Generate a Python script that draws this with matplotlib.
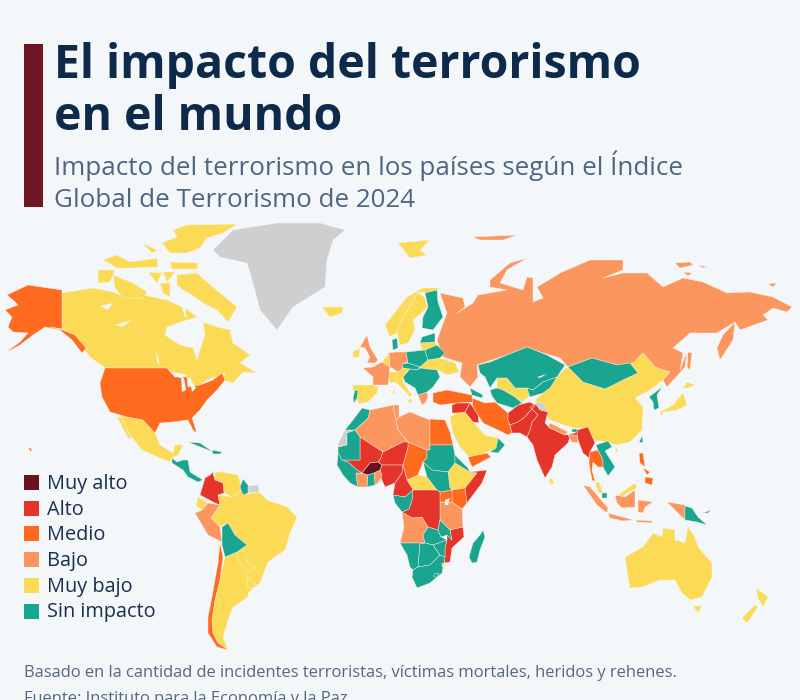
import matplotlib
matplotlib.use('Agg')
import matplotlib.pyplot as plt
from matplotlib.patches import Rectangle

plt.rcParams['font.family'] = ['Open Sans', 'DejaVu Sans']

BG = '#f4f7fa'
MUY_ALTO = '#6b1220'
ALTO = '#e5352b'
MEDIO = '#fe6a1e'
BAJO = '#fb965f'
MUY_BAJO = '#fbdb55'
SIN = '#1aa590'
GRIS = '#cecfd1'

legend_labels = ['Muy alto', 'Alto', 'Medio', 'Bajo', 'Muy bajo', 'Sin impacto']
legend_colors = [MUY_ALTO, ALTO, MEDIO, BAJO, MUY_BAJO, SIN]

# Country outlines (map units = reference pixels)
# North America
greenland = [(213,250),(233,230),(277,223),(320,223),(345,230),(333,240),(327,260),(325,287),(293,307),(277,330),(260,310),(253,283),(247,263),(220,257)]
iceland = [(322,307),(343,307),(342,313),(330,317)]
alaska = [(7,295),(28,285),(62,290),(62,329),(50,327),(63,330),(75,335),(86,348),(82,353),(72,340),(60,330),(45,327),(33,335),(20,345),(5,353),(20,342),(28,333),(13,332),(8,327),(12,317),(5,310),(18,305),(13,300)]
hawaii = [(28,447),(32,449),(31,452)]
canada = [(62,293),(93,288),(113,292),(127,298),(143,295),(167,300),(182,307),(185,317),(197,317),(187,320),(167,327),(165,335),(180,345),(193,348),(197,360),(200,350),(205,335),(203,322),(217,327),(230,330),(233,343),(250,355),(240,363),(257,373),(243,372),(233,383),(223,380),(225,373),(207,380),(195,388),(190,378),(173,373),(167,368),(105,368),(90,357),(75,335),(62,329)]
baffin = [(177,275),(197,273),(213,287),(237,307),(228,322),(217,310),(203,303),(192,295),(183,290),(177,285)]
victoria = [(113,275),(133,283),(147,292),(143,298),(123,298),(115,288)]
banks = [(98,270),(115,270),(110,282),(98,283)]
ellesmere = [(173,230),(187,225),(237,224),(223,233),(207,238),(200,248),(187,253),(170,253),(162,243),(177,237)]
devon = [(170,262),(198,263),(197,269),(172,269)]
melville = [(103,260),(117,255),(130,262),(157,258),(158,267),(130,268),(117,268)]
southampton = [(185,308),(197,317),(187,320)]
arctic_a = [(142,243),(157,250),(152,253)]
arctic_b = [(148,272),(162,273),(157,283)]
arctic_c = [(163,272),(175,272),(167,282)]
arctic_d = [(160,283),(170,283),(170,297),(163,293)]
usa = [(105,368),(167,368),(175,377),(187,377),(188,387),(200,385),(213,380),(222,373),(225,380),(217,390),(207,400),(200,410),(192,418),(197,433),(193,430),(188,420),(173,422),(160,423),(155,433),(143,420),(127,417),(110,412),(102,397),(100,383)]
lake_superior = [(172,372),(188,375),(180,378)]
lake_michigan = [(181,377),(184,378),(186,390),(182,392)]
lake_huron = [(190,379),(196,388),(192,392)]
great_bear = [(100,306),(113,303),(108,310)]
great_slave = [(115,325),(132,320),(122,327)]
lake_winnipeg = [(156,350),(160,364),(157,362)]
mexico = [(120,414),(127,417),(143,420),(155,433),(160,445),(173,453),(175,445),(183,445),(178,455),(172,458),(170,462),(160,458),(142,450),(130,435)]
baja = [(117,417),(122,418),(132,440),(128,438)]
central_america = [(172,458),(177,462),(183,460),(188,460),(190,472),(198,477),(203,480),(198,482),(188,477),(183,470),(172,463)]
cuba = [(188,442),(200,443),(213,452),(203,448)]
hispaniola = [(212,450),(222,452),(220,454),(213,454)]

# South America
colombia = [(215,470),(210,475),(205,478),(200,495),(215,503),(220,505),(218,495),(224,493),(223,483),(215,480),(213,473)]
venezuela = [(215,472),(222,472),(238,475),(240,482),(242,490),(232,497),(224,493),(223,483),(215,480)]
guyana = [(243,479),(248,485),(248,493),(243,495),(240,487)]
guayana_fr = [(248,486),(258,485),(259,492),(248,493)]
ecuador = [(198,497),(208,503),(202,510),(196,506)]
peru = [(202,510),(208,503),(220,505),(211,518),(220,527),(222,542),(208,535),(195,513)]
bolivia = [(222,527),(228,523),(235,535),(247,545),(237,552),(225,557),(222,545)]
brazil = [(211,518),(220,505),(218,495),(232,497),(242,490),(248,494),(259,492),(267,500),(287,507),(297,517),(290,533),(285,550),(268,562),(260,583),(253,588),(247,578),(245,555),(237,552),(247,545),(235,535),(228,523),(220,527)]
argentina = [(225,557),(237,552),(245,555),(247,578),(253,588),(248,593),(248,597),(233,607),(228,620),(223,637),(228,650),(218,643),(213,633),(212,620),(215,600),(220,580)]
chile = [(220,543),(223,557),(220,580),(215,600),(212,620),(213,633),(218,643),(228,650),(217,647),(208,633),(208,617),(212,597),(218,563)]
paraguay = [(237,552),(245,551),(248,563),(255,567),(252,572),(245,570),(238,560)]
uruguay = [(248,578),(256,583),(253,588),(247,587)]

# Europe
svalbard = [(398,243),(430,240),(420,250),(427,255),(410,258)]
franz_josef = [(473,237),(517,235),(503,240),(480,240)]
norway = [(385,325),(407,297),(423,288),(440,288),(430,293),(418,292),(402,320),(398,332),(390,337)]
sweden = [(418,292),(425,298),(427,308),(413,320),(415,330),(408,343),(400,345),(397,333),(402,320)]
finland = [(425,293),(437,290),(438,302),(443,317),(433,330),(422,328),(423,317),(428,307)]
spain = [(353,385),(373,385),(378,387),(377,393),(368,402),(360,404),(355,398),(357,392),(353,390)]
portugal = [(355,390),(358,391),(357,398),(354,403),(353,398)]
france = [(363,368),(373,367),(382,362),(390,367),(389,378),(388,385),(373,385),(373,377)]
uk = [(360,347),(367,335),(370,347),(378,360),(375,363),(367,363),(370,357),(365,348)]
ireland = [(353,352),(360,348),(359,357),(353,358)]
germany = [(389,353),(395,352),(406,352),(408,362),(402,364),(403,368),(398,372),(390,367)]
benelux = [(382,362),(389,353),(390,367)]
denmark = [(392,340),(397,338),(398,348),(393,350)]
poland = [(406,352),(425,350),(428,360),(420,367),(408,363)]
czech_austria = [(402,364),(408,363),(420,367),(417,370),(410,369),(403,368)]
belarus = [(425,350),(437,345),(445,353),(440,358),(428,360)]
estonia = [(422,337),(435,333),(435,342),(420,343)]
latvia = [(420,343),(435,342),(437,345),(425,350),(422,350)]
ukraine = [(420,367),(428,360),(440,358),(455,363),(459,372),(447,375),(438,370),(420,368)]
balkans = [(403,377),(410,369),(417,370),(420,368),(437,370),(440,377),(433,387),(427,392),(418,395),(415,388),(405,382)]
italy = [(389,378),(390,372),(398,372),(403,368),(410,369),(403,377),(403,382),(412,395),(410,397),(402,388),(395,382),(390,383)]
sardinia = [(393,387),(395,393),(393,395)]
sicily = [(407,402),(411,398),(412,403)]
greece = [(418,395),(427,392),(428,397),(425,403),(422,405)]

# Russia and Central Asia
russia = [(437,340),(447,313),(440,293),(463,298),(465,307),(457,313),(473,303),(478,295),(507,290),(490,287),(490,280),(510,263),(527,258),(507,270),(500,283),(523,290),(527,277),(533,278),(533,302),(543,298),(537,287),(557,275),(560,273),(590,260),(623,260),(623,270),(603,278),(623,273),(647,273),(663,287),(683,278),(703,282),(727,293),(750,292),(773,297),(792,307),(787,312),(773,308),(763,315),(768,320),(740,330),(735,322),(717,333),(690,333),(673,348),(683,353),(680,370),(687,352),(685,367),(667,387),(663,380),(670,372),(655,367),(643,353),(633,363),(617,365),(592,358),(568,367),(560,358),(540,352),(527,347),(507,355),(477,365),(478,377),(470,387),(460,377),(462,363),(443,357)]
sakhalin = [(688,352),(692,353),(690,370),(687,367)]
kamchatka = [(735,322),(733,340),(720,360),(717,348),(723,335)]
russia_isl_a = [(675,263),(690,262),(693,265),(680,268)]
russia_isl_b = [(698,265),(707,267),(703,268)]
russia_isl_c = [(683,272),(692,273),(688,276)]
russia_isl_d = [(768,284),(777,283),(773,287)]
kazakhstan = [(478,365),(490,362),(507,355),(527,347),(547,355),(565,365),(557,377),(543,382),(533,390),(527,388),(515,388),(507,378),(497,378),(490,388),(485,377),(480,373)]
lake_balkhash = [(537,377),(547,374),(540,378)]
turkmenistan = [(490,390),(497,388),(503,390),(515,397),(522,403),(513,408),(497,403),(492,396)]
uzbekistan = [(497,378),(507,378),(515,388),(527,388),(530,396),(522,402),(515,397),(503,390),(497,390)]
kyrgyz_tajik = [(527,388),(533,390),(543,382),(557,377),(550,388),(543,393),(530,397)]
mongolia = [(568,367),(592,358),(617,365),(630,363),(638,373),(623,380),(605,389),(583,382)]

# Asia
china = [(565,369),(568,367),(583,382),(605,389),(623,380),(638,373),(630,363),(643,353),(655,367),(670,372),(663,380),(650,390),(635,398),(643,407),(642,430),(630,442),(617,445),(607,442),(593,440),(583,428),(573,428),(550,420),(537,403),(535,400),(543,393),(550,388),(557,377)]
kashmir = [(535,403),(542,402),(548,412),(540,410)]
korea = [(649,397),(662,387),(657,395),(659,408),(654,410),(653,402)]
honshu = [(683,393),(687,405),(677,410),(663,412),(662,418),(660,412),(673,405)]
hokkaido = [(687,382),(695,385),(688,388),(683,388)]
taiwan = [(642,436),(643,442),(639,443)]
hainan = [(615,447),(618,450),(616,453)]
laos_vietnam = [(596,445),(608,441),(612,447),(605,451),(615,467),(608,476),(603,467),(603,460),(598,450)]
thailand = [(590,452),(598,450),(603,460),(603,467),(598,467),(593,462),(592,470),(595,482),(592,480),(589,463)]
myanmar = [(577,430),(588,427),(595,443),(590,452),(589,458),(583,453),(578,440)]
india = [(537,403),(548,412),(545,423),(550,428),(565,435),(572,434),(587,427),(582,433),(577,437),(572,442),(570,437),(568,443),(555,455),(552,467),(545,478),(537,460),(533,445),(527,437),(530,430),(532,422),(538,415),(530,407)]
nepal = [(550,423),(568,432),(565,435),(548,427)]
bhutan = [(572,429),(577,429),(577,432),(572,432)]
bangladesh = [(568,435),(577,435),(578,443),(572,442)]
sri_lanka = [(550,477),(554,482),(552,485),(549,482)]
afghanistan = [(508,413),(518,405),(530,402),(535,405),(525,417),(518,422),(510,425),(508,420)]
pakistan = [(535,405),(537,403),(530,407),(538,415),(532,422),(530,430),(527,437),(520,433),(512,433),(510,425),(518,422),(525,417)]
iran = [(472,398),(485,403),(495,402),(508,413),(508,420),(510,425),(512,433),(508,435),(498,430),(483,423),(478,415),(473,407)]
turkey = [(433,393),(447,390),(472,395),(472,398),(473,402),(457,403),(440,405),(433,402)]
caucasus = [(470,388),(483,395),(482,398),(472,395)]
syria = [(452,405),(457,403),(470,403),(465,412),(457,413),(452,413)]
iraq = [(470,403),(473,407),(478,415),(479,423),(473,422),(465,412)]
saudi = [(450,417),(457,413),(465,412),(473,422),(485,435),(498,438),(497,448),(487,452),(470,458),(460,447),(453,433)]
oman = [(498,438),(505,445),(498,453),(490,452),(496,448)]
yemen = [(468,457),(487,453),(491,457),(472,467)]

# Africa
morocco = [(345,430),(353,420),(362,408),(370,410),(368,418),(355,430)]
w_sahara = [(337,446),(345,430),(355,430),(347,433),(347,445)]
mauritania = [(347,433),(355,430),(360,437),(360,460),(342,460),(338,453),(338,447),(347,445)]
algeria = [(355,430),(368,418),(370,410),(393,405),(396,420),(398,430),(408,442),(403,442),(383,452),(360,437)]
tunisia = [(393,405),(399,405),(399,417),(396,420)]
libya = [(396,420),(399,417),(410,412),(430,420),(430,450),(427,450),(408,442),(398,430)]
egypt = [(430,419),(445,420),(450,432),(453,445),(430,445)]
sudan = [(430,445),(453,445),(455,455),(455,463),(448,472),(432,470),(423,462),(427,458),(427,450),(430,450)]
chad = [(408,442),(427,450),(427,458),(423,462),(418,475),(407,480),(403,465),(408,447)]
niger = [(383,452),(403,442),(408,442),(408,447),(403,465),(382,465),(378,462),(380,460)]
mali = [(360,437),(383,452),(380,460),(378,462),(370,463),(362,473),(357,470),(348,462),(342,460),(360,460)]
burkina = [(362,473),(370,463),(378,462),(382,465),(380,470),(374,473),(368,475)]
nigeria = [(382,465),(403,465),(402,473),(395,483),(385,487),(381,478),(382,475),(380,470)]
cameroon = [(403,465),(407,480),(412,488),(413,490),(405,497),(393,495),(395,483),(402,473)]
car = [(407,480),(418,475),(427,477),(437,490),(413,490),(412,488)]
s_sudan = [(432,470),(448,472),(450,488),(452,490),(440,492),(437,490),(427,477),(423,462)]
ethiopia = [(455,463),(470,472),(477,473),(465,488),(452,490),(450,488),(448,472)]
eritrea = [(455,455),(468,468),(470,472),(455,463)]
somalia = [(470,472),(487,470),(482,483),(467,503),(465,488),(477,473)]
kenya = [(452,490),(465,488),(467,503),(462,509),(452,502)]
uganda = [(440,492),(452,490),(452,502),(440,502)]
lake_victoria = [(445,500),(450,498),(448,505),(445,505)]
tanzania = [(440,502),(452,502),(462,509),(463,527),(450,530),(440,520)]
drc = [(413,490),(437,490),(440,492),(440,520),(438,530),(428,527),(422,517),(412,518),(402,512),(409,509),(412,500)]
gabon_congo = [(393,495),(405,497),(413,490),(412,500),(409,509),(402,512),(395,503)]
angola = [(402,512),(412,518),(422,517),(428,527),(423,535),(425,543),(400,543),(404,527)]
zambia = [(423,535),(428,527),(438,530),(441,537),(447,540),(433,545),(425,543)]
malawi = [(440,520),(450,530),(452,540),(447,535),(441,537),(438,530)]
mozambique = [(450,530),(463,527),(464,537),(452,548),(450,562),(444,563),(445,557),(445,548),(447,540),(447,535),(452,540)]
namibia = [(400,543),(425,543),(420,544),(418,567),(413,570),(410,567),(407,555)]
botswana = [(420,544),(425,543),(433,545),(440,555),(430,565),(418,567)]
zimbabwe = [(433,545),(447,540),(445,548),(445,557),(440,555)]
south_africa = [(413,570),(418,567),(430,565),(440,555),(445,557),(444,563),(442,573),(430,583),(417,588),(412,577)]
eswatini = [(442,563),(445,564),(444,567),(442,567)]
lesotho = [(434,574),(439,573),(437,577),(434,577)]
madagascar = [(483,530),(485,537),(480,550),(477,562),(472,563),(469,557),(473,543),(480,535)]
west_coast = [(338,453),(342,460),(348,462),(357,470),(362,473),(356,473),(357,482),(358,487),(350,483),(343,475),(337,465)]
ivory_coast = [(356,473),(362,473),(368,475),(367,487),(358,487),(357,482)]
ghana = [(368,475),(374,473),(375,485),(367,487)]
togo_benin = [(374,473),(380,470),(382,475),(381,478),(378,483),(375,485)]

# Southeast Asia and Oceania
sumatra = [(583,485),(590,487),(608,508),(607,513),(597,505)]
java = [(608,513),(633,520),(623,521),(610,518)]
kalimantan = [(615,495),(625,497),(635,490),(635,507),(622,508),(617,503)]
sarawak = [(618,495),(628,488),(635,483),(637,488),(627,493),(622,497)]
malay_pen = [(595,483),(599,482),(603,493),(599,493)]
brunei = [(602,493),(607,493),(607,498),(602,498)]
sulawesi = [(638,500),(653,502),(645,507),(643,513),(638,512)]
west_papua = [(667,502),(685,505),(685,520),(673,508)]
png = [(685,506),(692,508),(698,517),(707,525),(697,522),(685,520)]
new_britain = [(703,513),(711,510),(708,513)]
luzon = [(639,453),(643,453),(645,467),(640,463)]
mindanao = [(645,477),(653,478),(652,485),(645,483)]
visayas = [(643,468),(650,472),(647,475)]
lesser_sunda = [(636,520),(652,521),(652,523),(637,522)]
australia = [(625,557),(643,547),(653,533),(662,537),(663,528),(675,530),(675,540),(685,543),(688,527),(695,537),(698,547),(712,563),(712,577),(702,597),(690,600),(682,593),(675,580),(660,580),(643,587),(630,588),(628,577)]
tasmania = [(693,606),(702,606),(698,613)]
nz_north = [(756,588),(768,597),(763,607),(758,598)]
nz_south = [(755,605),(758,607),(747,623),(742,618)]

country_groups = [
    (GRIS, [greenland, w_sahara, guayana_fr]),
    (MUY_BAJO, [iceland, canada, baffin, victoria, banks, ellesmere, devon, melville, southampton, arctic_a, arctic_b, arctic_c, arctic_d,
                mexico, baja, venezuela, ecuador, brazil, argentina, paraguay, uruguay, svalbard, norway, sweden, spain, ireland,
                benelux, latvia, ukraine, italy, sardinia, sicily, uzbekistan, china, honshu, hokkaido, hainan, sri_lanka, saudi,
                car, ethiopia, sarawak, malay_pen, australia, tasmania, nz_north, nz_south]),
    (BAJO, [peru, france, uk, germany, greece, russia, sakhalin, kamchatka, russia_isl_a, russia_isl_b, russia_isl_c, russia_isl_d,
            franz_josef, algeria, tunisia, libya, ivory_coast, togo_benin, tanzania, angola,
            sumatra, java, kalimantan, sulawesi, west_papua, lesser_sunda]),
    (MEDIO, [alaska, hawaii, usa, chile, thailand, iran, turkey, yemen, egypt, chad, kenya, uganda, luzon, mindanao, visayas]),
    (ALTO, [colombia, india, myanmar, afghanistan, pakistan, syria, iraq, mali, niger, nigeria, cameroon, somalia, drc, mozambique]),
    (MUY_ALTO, [burkina]),
    (SIN, [central_america, cuba, hispaniola, guyana, bolivia, finland, portugal, denmark, poland, czech_austria, belarus, estonia,
           balkans, kazakhstan, turkmenistan, kyrgyz_tajik, mongolia, korea, taiwan, laos_vietnam, bhutan, caucasus, oman, morocco,
           mauritania, sudan, s_sudan, eritrea, gabon_congo, zambia, malawi, namibia, botswana, zimbabwe, south_africa, lesotho,
           madagascar, west_coast, ghana, brunei, png, new_britain]),
    # small ones lying over a neighbour
    (BAJO, [nepal, bangladesh]),
    (GRIS, [kashmir]),
    (MUY_BAJO, [eswatini]),
]
lakes = [lake_superior, lake_michigan, lake_huron, great_bear, great_slave, lake_winnipeg, lake_balkhash, lake_victoria]

fig = plt.figure(figsize=(8, 7), dpi=100, facecolor=BG)
ax = fig.add_axes([0, 0, 1, 1])
ax.set_xlim(0, 800)
ax.set_ylim(700, 0)
ax.axis('off')

for color, shapes in country_groups:
    for pts in shapes:
        xs, ys = zip(*pts)
        ax.fill(xs, ys, facecolor=color, edgecolor='#f8f2e6', linewidth=0.3, joinstyle='round')

for pts in lakes:
    ax.fill(*zip(*pts), facecolor=BG, edgecolor='none')

# Header
ax.add_patch(Rectangle((24, 44), 19, 163, facecolor='#6f1524', edgecolor='none'))
ax.text(54, 78, 'El impacto del terrorismo', fontsize=33.4, fontweight='bold', color='#0d2a4a', va='baseline')
ax.text(54, 130, 'en el mundo', fontsize=33.4, fontweight='bold', color='#0d2a4a', va='baseline')
ax.text(54, 175, 'Impacto del terrorismo en los países según el Índice', fontsize=18.7, color='#4f6581', va='baseline')
ax.text(54, 207, 'Global de Terrorismo de 2024', fontsize=18.7, color='#4f6581', va='baseline')

# Legend
for i, (label, color) in enumerate(zip(legend_labels, legend_colors)):
    y = 475 + i * 25.7
    ax.add_patch(Rectangle((24, y), 15, 15, facecolor=color, edgecolor='none'))
    ax.text(47, y + 14, label, fontsize=14.3, color='#1a2f4b', va='baseline')

# Footer
ax.text(24, 677, 'Basado en la cantidad de incidentes terroristas, víctimas mortales, heridos y rehenes.',
        fontsize=11.9, color='#55677f', va='baseline')
ax.text(24, 703, 'Fuente: Instituto para la Economía y la Paz', fontsize=11.9, color='#55677f', va='baseline')

fig.savefig('out.png', dpi=100, facecolor=BG)
